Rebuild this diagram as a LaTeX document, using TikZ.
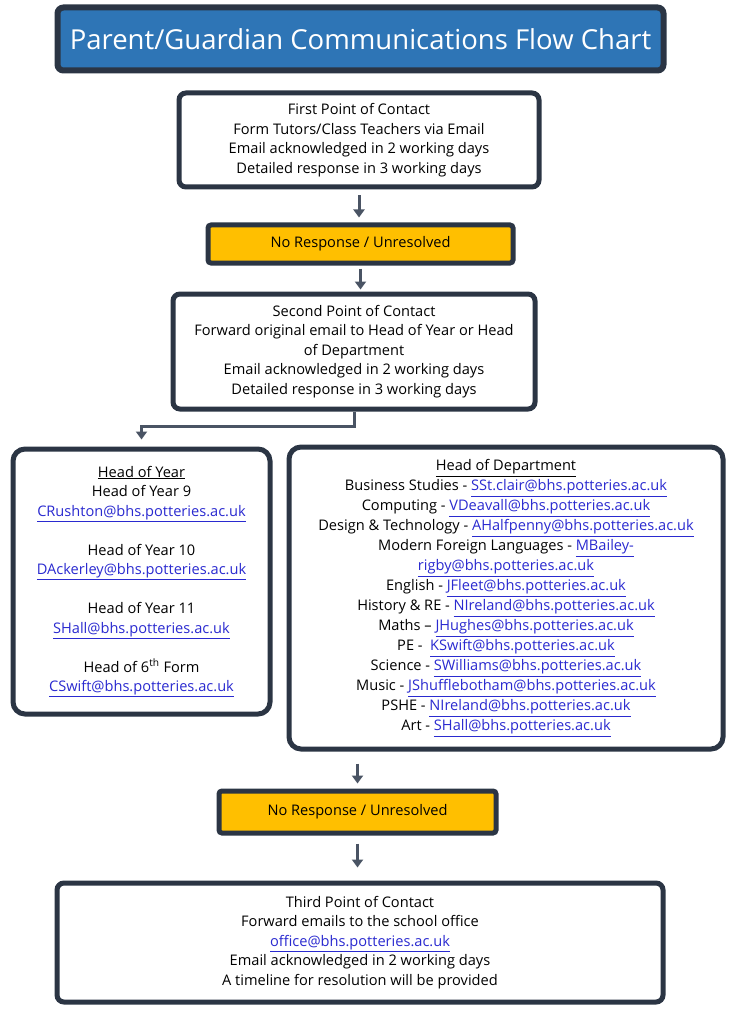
\documentclass[tikz,border=0pt]{standalone}
\usepackage{fontspec}
\setmainfont{Open Sans}
\usetikzlibrary{arrows.meta,calc}
\definecolor{frame}{HTML}{2B3544}
\definecolor{titleblue}{HTML}{2E75B6}
\definecolor{amber}{HTML}{FFBF00}
\definecolor{linkblue}{HTML}{2A2AD0}
\definecolor{arrowgray}{HTML}{4A5464}
\newcommand{\lnk}[1]{\textcolor{linkblue}{\underline{#1}}}
\begin{document}
\begin{tikzpicture}[x=1pt,y=-1pt,
  box/.style={draw=frame,line width=5pt,rounded corners=7pt,fill=white,align=center,inner sep=0pt,
    font=\fontsize{14.6}{19.5}\selectfont},
  amberbox/.style={box,fill=amber,rounded corners=3pt},
  titlebox/.style={draw=frame,line width=6pt,rounded corners=6pt,fill=titleblue,text=white,
    font=\fontsize{27.5}{30}\selectfont,inner sep=0pt},
  flow/.style={draw=arrowgray,line width=3pt,-{Triangle[width=11pt,length=8pt]}}]
\useasboundingbox (0,0) rectangle (751,1024);
\node[titlebox,minimum width=606pt,minimum height=63pt] (title) at (360.5,39) {Parent/Guardian Communications Flow Chart};
\node[box,minimum width=360pt,minimum height=94pt] (b1) at (359,140) {First Point of Contact\\Form Tutors/Class Teachers via Email\\Email acknowledged in 2 working days\\Detailed response in 3 working days};
\node[amberbox,minimum width=305pt,minimum height=38pt] (n1) at (360.5,244) {No Response / Unresolved};
\node[box,minimum width=362pt,minimum height=115pt] (b2) at (354,351.5) {Second Point of Contact\\Forward original email to Head of Year or Head\\of Department\\Email acknowledged in 2 working days\\Detailed response in 3 working days};
\node[box,minimum width=257pt,minimum height=265pt,rounded corners=12pt] (hoy) at (141.5,581.5) {\underline{Head of Year}\\Head of Year 9\\\lnk{CRushton@bhs.potteries.ac.uk}\\[19.5pt]Head of Year 10\\\lnk{DAckerley@bhs.potteries.ac.uk}\\[19.5pt]Head of Year 11\\\lnk{SHall@bhs.potteries.ac.uk}\\[19.5pt]Head of 6\textsuperscript{th} Form\\\lnk{CSwift@bhs.potteries.ac.uk}};
\node[box,minimum width=434pt,minimum height=302pt,rounded corners=12pt,font=\fontsize{14.6}{20}\selectfont] (hod) at (506,598) {\underline{Head of Department}\\Business Studies - \lnk{SSt.clair@bhs.potteries.ac.uk}\\Computing - \lnk{VDeavall@bhs.potteries.ac.uk}\\Design \& Technology - \lnk{AHalfpenny@bhs.potteries.ac.uk}\\Modern Foreign Languages - \lnk{MBailey-}\\\lnk{rigby@bhs.potteries.ac.uk}\\English - \lnk{JFleet@bhs.potteries.ac.uk}\\History \& RE - \lnk{NIreland@bhs.potteries.ac.uk}\\Maths -- \lnk{JHughes@bhs.potteries.ac.uk}\\PE - \ \lnk{KSwift@bhs.potteries.ac.uk}\\Science - \lnk{SWilliams@bhs.potteries.ac.uk}\\Music - \lnk{JShufflebotham@bhs.potteries.ac.uk}\\PSHE - \lnk{NIreland@bhs.potteries.ac.uk}\\Art - \lnk{SHall@bhs.potteries.ac.uk}};
\node[amberbox,minimum width=277pt,minimum height=42pt] (n2) at (357.5,812) {No Response / Unresolved};
\node[box,minimum width=606pt,minimum height=119pt] (b3) at (360,942.5) {Third Point of Contact\\Forward emails to the school office\\\lnk{office@bhs.potteries.ac.uk}\\Email acknowledged in 2 working days\\A timeline for resolution will be provided};
\draw[flow,shorten <=6pt,shorten >=5pt] (b1.south) -- (b1.south |- n1.north);
\draw[flow,shorten <=3pt,shorten >=2pt] (n1.south) -- (n1.south |- b2.north);
\draw[flow,shorten >=7pt] (b2.south) |- ([yshift=20pt]hoy.north) -- (hoy.north);
\draw[flow,shorten <=12pt,shorten >=5pt] (n2.north |- hod.south) -- (n2.north);
\draw[flow,shorten <=8pt,shorten >=13pt] (n2.south) -- (n2.south |- b3.north);
\end{tikzpicture}
\end{document}
